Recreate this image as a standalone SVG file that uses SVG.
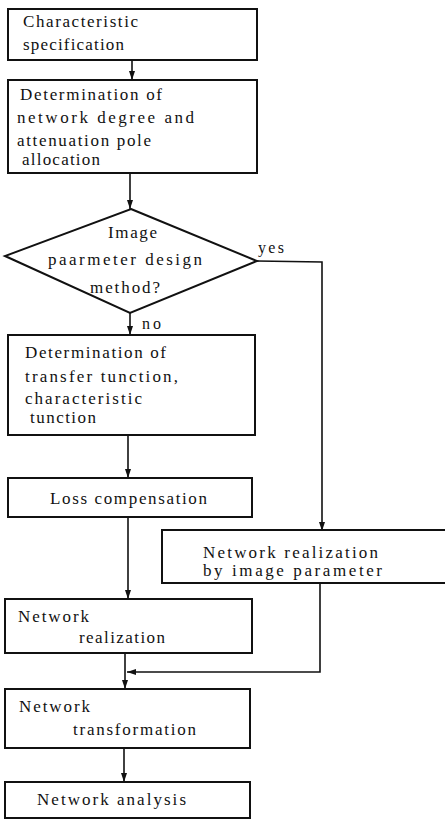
<svg xmlns="http://www.w3.org/2000/svg" width="445" height="820" viewBox="0 0 445 820">
  <style>
    .box { fill: #ffffff; stroke: #111111; stroke-width: 2; }
    .lbl { font-family: "Liberation Serif", "Times New Roman", serif; font-size: 17px; fill: #111111; }
    .sm { font-family: "Liberation Serif", "Times New Roman", serif; font-size: 16px; fill: #111111; }
    .wire { fill: none; stroke: #111111; stroke-width: 1.6; }
  </style>
  <defs>
    <marker id="arrow" markerUnits="userSpaceOnUse" markerWidth="10" markerHeight="6" refX="9" refY="3" orient="auto">
      <path d="M0,0 L9,3 L0,6 Z" fill="#111111"/>
    </marker>
  </defs>
  <rect width="445" height="820" fill="#ffffff"/>

  <g id="connectors">
    <line class="wire" x1="132" y1="60" x2="132" y2="80" marker-end="url(#arrow)"/>
    <line class="wire" x1="130" y1="173" x2="130" y2="209" marker-end="url(#arrow)"/>
    <line class="wire" x1="130" y1="313" x2="130" y2="335" marker-end="url(#arrow)"/>
    <polyline class="wire" points="257,261 322,262 322,531" marker-end="url(#arrow)"/>
    <line class="wire" x1="128" y1="435" x2="128" y2="478" marker-end="url(#arrow)"/>
    <line class="wire" x1="128" y1="517" x2="128" y2="599" marker-end="url(#arrow)"/>
    <polyline class="wire" points="320,583 320,672 127,672" marker-end="url(#arrow)"/>
    <line class="wire" x1="125" y1="653" x2="125" y2="689" marker-end="url(#arrow)"/>
    <line class="wire" x1="124" y1="748" x2="124" y2="782" marker-end="url(#arrow)"/>
    <text class="sm" x="258" y="253" textLength="26" lengthAdjust="spacing">yes</text>
    <text class="sm" x="142" y="329" textLength="19" lengthAdjust="spacing">no</text>
  </g>

  <g id="spec">
    <rect class="box" x="8" y="9" width="249" height="51"/>
    <text class="lbl" x="23" y="27" textLength="115" lengthAdjust="spacing">Characteristic</text>
    <text class="lbl" x="23" y="50" textLength="101" lengthAdjust="spacing">specification</text>
  </g>

  <g id="degree">
    <rect class="box" x="8" y="80" width="249" height="93"/>
    <text class="lbl" x="20" y="100" textLength="142" lengthAdjust="spacing">Determination of</text>
    <text class="lbl" x="17" y="123" textLength="177" lengthAdjust="spacing">network  degree and</text>
    <text class="lbl" x="17" y="146" textLength="134" lengthAdjust="spacing">attenuation pole</text>
    <text class="lbl" x="22" y="164.5" textLength="78" lengthAdjust="spacing">allocation</text>
  </g>

  <g id="decision">
    <polygon class="box" points="131,209 257,261 130,313 5,256"/>
    <text class="lbl" x="108" y="238" textLength="49" lengthAdjust="spacing">Image</text>
    <text class="lbl" x="48" y="265" textLength="154" lengthAdjust="spacing">paarmeter design</text>
    <text class="lbl" x="90" y="293" textLength="70" lengthAdjust="spacing">method?</text>
  </g>

  <g id="transfer">
    <rect class="box" x="8" y="335" width="247" height="100"/>
    <text class="lbl" x="25" y="358" textLength="141" lengthAdjust="spacing">Determination of</text>
    <text class="lbl" x="25" y="382" textLength="153" lengthAdjust="spacing">transfer  tunction,</text>
    <text class="lbl" x="25" y="404" textLength="117" lengthAdjust="spacing">characteristic</text>
    <text class="lbl" x="30" y="422.5" textLength="66" lengthAdjust="spacing">tunction</text>
  </g>

  <g id="loss">
    <rect class="box" x="8" y="478" width="244" height="39"/>
    <text class="lbl" x="50" y="504" textLength="157" lengthAdjust="spacing">Loss compensation</text>
  </g>

  <g id="image-realization">
    <rect class="box" x="162" y="530" width="290" height="53"/>
    <text class="lbl" x="203" y="557.5" textLength="175" lengthAdjust="spacing">Network realization</text>
    <text class="lbl" x="203" y="576" textLength="179" lengthAdjust="spacing">by image parameter</text>
  </g>

  <g id="realization">
    <rect class="box" x="5" y="599" width="247" height="54"/>
    <text class="lbl" x="18" y="622" textLength="71" lengthAdjust="spacing">Network</text>
    <text class="lbl" x="79" y="643" textLength="86" lengthAdjust="spacing">realization</text>
  </g>

  <g id="transformation">
    <rect class="box" x="5" y="689" width="245" height="59"/>
    <text class="lbl" x="19" y="712" textLength="71" lengthAdjust="spacing">Network</text>
    <text class="lbl" x="73" y="735" textLength="123" lengthAdjust="spacing">transformation</text>
  </g>

  <g id="analysis">
    <rect class="box" x="5" y="782" width="245" height="36"/>
    <text class="lbl" x="37" y="805" textLength="149" lengthAdjust="spacing">Network analysis</text>
  </g>
</svg>
